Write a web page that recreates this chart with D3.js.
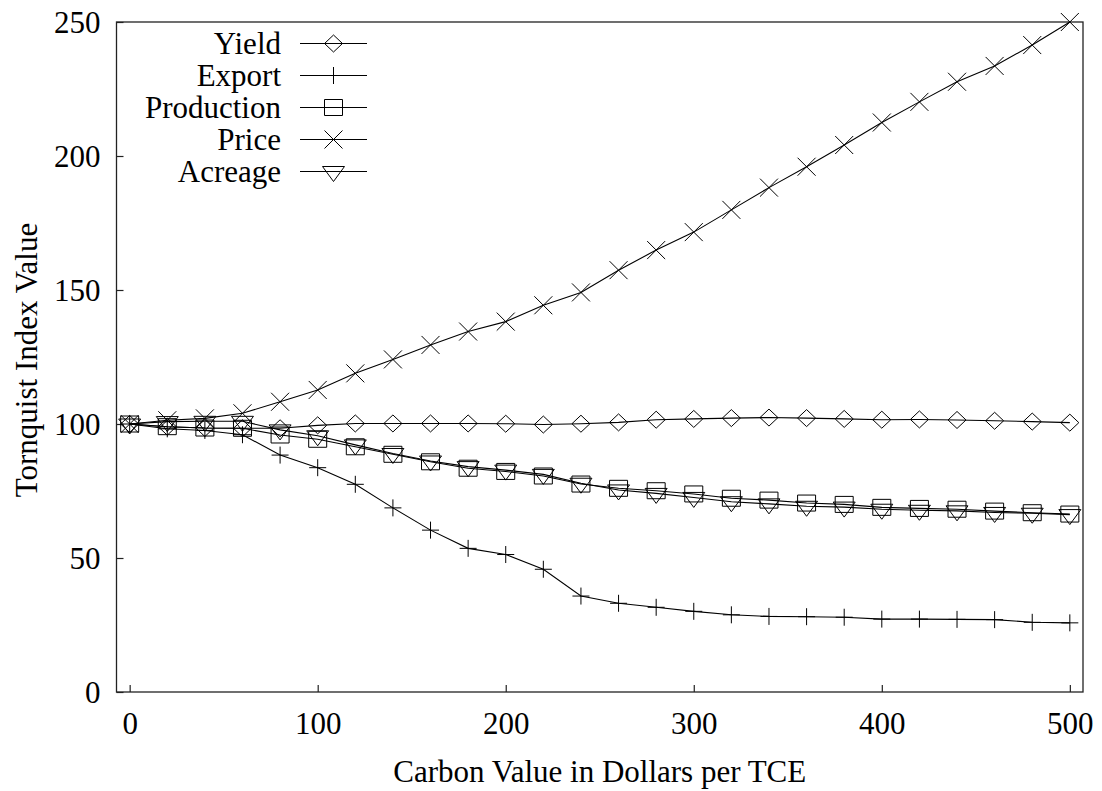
<!DOCTYPE html>
<html>
<head>
<meta charset="utf-8">
<script src="https://cdn.jsdelivr.net/npm/d3@7"></script>
<style>
  html, body { margin: 0; padding: 0; background: #fff; }
  svg { display: block; }
  text { font-family: "Liberation Serif", "Times New Roman", serif; fill: #000; }
</style>
</head>
<body>
<svg id="chart" width="1102" height="791"></svg>
<script>
// Carbon value (dollars per TCE) at which each index was computed
const carbonValues = [0, 20, 40, 60, 80, 100, 120, 140, 160, 180, 200, 220, 240,
  260, 280, 300, 320, 340, 360, 380, 400, 420, 440, 460, 480, 500];

// Tornquist index values per series
const yieldIdx = [100, 99.0, 98.5, 98.4, 98.4, 99.5, 100.2, 100.2, 100.2, 100.2, 100.1, 99.8, 100.1,
  100.6, 101.6, 101.9, 102.2, 102.4, 102.2, 101.9, 101.6, 101.7, 101.5, 101.2, 100.9, 100.5];
const exportIdx = [100, 98.2, 97.6, 96.0, 88.4, 83.7, 77.5, 68.7, 60.4, 53.6, 51.3, 45.8, 35.8,
  33.1, 31.6, 30.1, 28.8, 28.2, 28.1, 27.9, 27.2, 27.2, 27.1, 27.0, 26.0, 25.8];
const productionIdx = [100, 99.0, 98.5, 98.4, 95.9, 94.3, 91.5, 88.7, 85.9, 83.5, 82.3, 80.6, 77.6,
  76.0, 75.1, 73.9, 72.3, 71.6, 70.5, 70.0, 68.9, 68.5, 68.2, 67.5, 66.9, 66.4];
const priceIdx = [100, 101.4, 102.1, 104.0, 108.3, 112.7, 118.9, 124.1, 129.5, 134.5, 138.2, 144.3, 149.1,
  157.4, 164.9, 171.6, 179.9, 188.2, 196.0, 204.1, 212.5, 220.2, 227.7, 233.6, 241.4, 250.0];
const acreageIdx = [100, 100.9, 101.0, 101.0, 97.8, 95.6, 92.2, 89.0, 86.2, 84.1, 82.8, 81.2, 77.9,
  75.4, 74.1, 72.6, 71.0, 70.2, 69.3, 69.0, 68.2, 67.8, 67.6, 67.0, 66.7, 66.2];

const seriesNames = ["Yield", "Export", "Production", "Price", "Acreage"];
const seriesValues = [yieldIdx, exportIdx, productionIdx, priceIdx, acreageIdx];
const seriesMarkers = ["diamond", "plus", "square", "cross", "triangleDown"];

const xTicks = [0, 100, 200, 300, 400, 500];
const yTicks = [0, 50, 100, 150, 200, 250];

const xTitle = "Carbon Value in Dollars per TCE";
const yTitle = "Tornquist Index Value";

const svg = d3.select("#chart");
const plotLeft = 116.5, plotRight = 1083, plotTop = 22, plotBottom = 692;
const fontSize = 31;

const x = d3.scaleLinear().domain([-7, 507]).range([plotLeft, plotRight]);
const y = d3.scaleLinear().domain([0, 250]).range([plotBottom, plotTop]);

// Point symbols, drawn around (0,0)
function markerPath(kind) {
  const p = d3.path();
  switch (kind) {
    case "diamond":
      p.moveTo(0, -8.5); p.lineTo(9, 0); p.lineTo(0, 8.5); p.lineTo(-9, 0); p.closePath();
      break;
    case "plus":
      p.moveTo(-8.5, 0); p.lineTo(8.5, 0); p.moveTo(0, -8.5); p.lineTo(0, 8.5);
      break;
    case "square":
      p.rect(-9, -8, 18, 16);
      break;
    case "cross":
      p.moveTo(-9, -9); p.lineTo(9, 9); p.moveTo(9, -9); p.lineTo(-9, 9);
      break;
    case "triangleDown":
      p.moveTo(-11, -5); p.lineTo(11, -5); p.lineTo(0, 10); p.closePath();
      break;
  }
  return p.toString();
}

// Frame
svg.append("rect")
  .attr("x", plotLeft).attr("y", plotTop)
  .attr("width", plotRight - plotLeft).attr("height", plotBottom - plotTop)
  .attr("fill", "none").attr("stroke", "#222").attr("stroke-width", 1.3);

// Axes with inward ticks
const xAxis = d3.axisBottom(x).tickValues(xTicks).tickSize(-7).tickFormat(d3.format("d"));
const gx = svg.append("g").attr("transform", `translate(0,${plotBottom})`).call(xAxis);
gx.select(".domain").remove();
gx.selectAll(".tick line").attr("stroke", "#222").attr("stroke-width", 1.2);
gx.selectAll(".tick text").attr("font-size", fontSize).attr("dy", "0.71em").attr("y", 20);

const yAxis = d3.axisLeft(y).tickValues(yTicks).tickSize(-7).tickFormat(d3.format("d"));
const gy = svg.append("g").attr("transform", `translate(${plotLeft},0)`).call(yAxis);
gy.select(".domain").remove();
gy.selectAll(".tick line").attr("stroke", "#222").attr("stroke-width", 1.2);
gy.selectAll(".tick text").attr("font-size", fontSize).attr("x", -16).attr("dy", "0.34em");

// Axis titles
svg.append("text")
  .attr("x", (plotLeft + plotRight) / 2).attr("y", 782)
  .attr("text-anchor", "middle").attr("font-size", fontSize)
  .text(xTitle);
svg.append("text")
  .attr("transform", `translate(37,${(plotTop + plotBottom) / 2 + 3}) rotate(-90)`)
  .attr("text-anchor", "middle").attr("font-size", fontSize)
  .text(yTitle);

// Series lines and markers
const line = d3.line().x((d, i) => x(carbonValues[i])).y(d => y(d));
seriesValues.forEach((vals, s) => {
  const g = svg.append("g");
  g.append("path")
    .attr("d", line(vals))
    .attr("fill", "none").attr("stroke", "#000").attr("stroke-width", 1.1);
  g.selectAll("path.mark")
    .data(vals)
    .join("path")
    .attr("class", "mark")
    .attr("transform", (d, i) => `translate(${x(carbonValues[i])},${y(d)})`)
    .attr("d", markerPath(seriesMarkers[s]))
    .attr("fill", "none").attr("stroke", "#000").attr("stroke-width", 1);
});

// Legend
const legend = svg.append("g");
seriesNames.forEach((name, i) => {
  const ly = 43.5 + i * 32;
  legend.append("text")
    .attr("x", 281).attr("y", ly).attr("dy", "0.34em")
    .attr("text-anchor", "end").attr("font-size", fontSize)
    .text(name);
  legend.append("line")
    .attr("x1", 300).attr("x2", 367).attr("y1", ly).attr("y2", ly)
    .attr("stroke", "#000").attr("stroke-width", 1.1);
  legend.append("path")
    .attr("transform", `translate(333.5,${ly})`)
    .attr("d", markerPath(seriesMarkers[i]))
    .attr("fill", "none").attr("stroke", "#000").attr("stroke-width", 1);
});
</script>
</body>
</html>
